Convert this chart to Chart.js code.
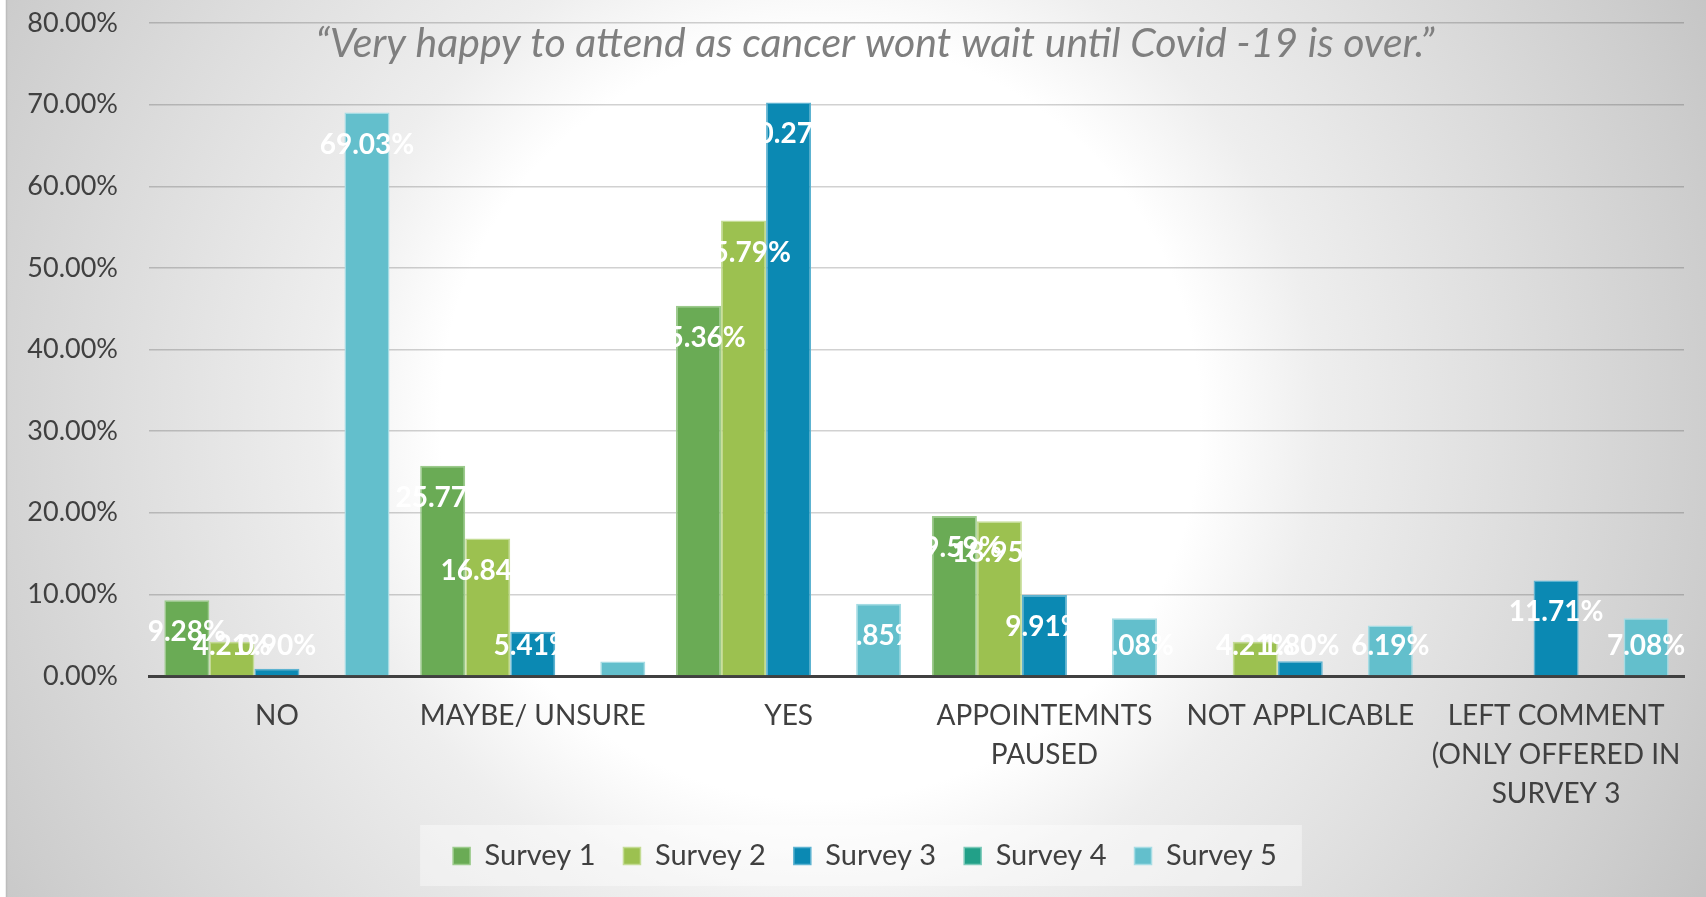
<!DOCTYPE html>
<html>
<head>
<meta charset="utf-8">
<title>Surveys</title>
<script src="https://cdn.jsdelivr.net/npm/chart.js@4.4.1/dist/chart.umd.min.js"></script>
<style>
  html, body { margin: 0; padding: 0; background: #fff; }
</style>
</head>
<body>
<canvas id="grafico" width="1706" height="897"></canvas>
<script>
const categorias = [
  "NO",
  "MAYBE/ UNSURE",
  "YES",
  ["APPOINTEMNTS", "PAUSED"],
  "NOT APPLICABLE",
  ["LEFT COMMENT", "(ONLY OFFERED IN", "SURVEY 3"],
];
const nomesSeries = ["Survey 1", "Survey 2", "Survey 3", "Survey 4", "Survey 5"];
const survey1 = [9.28, 25.77, 45.36, 19.59, null, null];
const survey2 = [4.21, 16.84, 55.79, 18.95, 4.21, null];
const survey3 = [0.9, 5.41, 70.27, 9.91, 1.8, 11.71];
const survey4 = [null, null, null, null, null, null];
const survey5 = [69.03, 1.77, 8.85, 7.08, 6.19, 7.08];
const ticksY = [0, 10, 20, 30, 40, 50, 60, 70, 80];
const titulo = "“Very happy to attend as cancer wont wait until Covid -19 is over.”";

const cores = ["#6aab55", "#9cc150", "#0b89b3", "#22a088", "#63bfcc"];
const bordas = ["#9ccb8c", "#c4dc94", "#5db3d1", "#7cc9b9", "#a5dce4"];

Chart.defaults.font.family = "Lato, 'Open Sans', sans-serif";
Chart.defaults.color = "#404040";

const fundo = {
  id: "fundo",
  afterLayout(chart) {
    // centraliza a legenda como no original
    chart.legend.left += 23;
    chart.legend.right += 23;
  },
  beforeDraw(chart) {
    const ctx = chart.ctx;
    ctx.save();
    ctx.fillStyle = "#ffffff";
    ctx.fillRect(0, 0, chart.width, chart.height);
    const g = ctx.createRadialGradient(820, 420, 0, 820, 420, 1000);
    g.addColorStop(0, "#ffffff");
    g.addColorStop(0.38, "#ffffff");
    g.addColorStop(0.5, "#eeeeee");
    g.addColorStop(0.9, "#cdcdcd");
    g.addColorStop(1, "#c4c4c4");
    ctx.fillStyle = g;
    ctx.fillRect(6, 0, chart.width - 6, chart.height);
    ctx.strokeStyle = "#bdbdbd";
    ctx.lineWidth = 1.5;
    ctx.beginPath();
    ctx.moveTo(6.5, 0);
    ctx.lineTo(6.5, chart.height);
    ctx.stroke();

    // caixa da legenda
    const hb = chart.legend.legendHitBoxes;
    if (hb && hb.length) {
      const ini = hb[0];
      const fim = hb[hb.length - 1];
      const meio = ini.top + ini.height / 2;
      ctx.fillStyle = "rgba(255,255,255,0.4)";
      ctx.fillRect(ini.left - 33, meio - 31, fim.left + fim.width + 25 - (ini.left - 33), 61);
    }
    ctx.restore();
  },
  beforeDatasetsDraw(chart) {
    const ctx = chart.ctx;
    ctx.save();
    ctx.font = "italic 400 41px Lato, 'Open Sans', sans-serif";
    ctx.fillStyle = "#7f7f7f";
    ctx.textAlign = "center";
    ctx.textBaseline = "middle";
    ctx.fillText(titulo, 875, 44);
    ctx.restore();
  },
};

const rotulos = {
  id: "rotulos",
  afterDatasetsDraw(chart) {
    const ctx = chart.ctx;
    const base = chart.scales.y.getPixelForValue(0);
    ctx.save();
    ctx.font = "bold 28px Lato, 'Open Sans', sans-serif";
    ctx.fillStyle = "#ffffff";
    ctx.textAlign = "center";
    ctx.textBaseline = "middle";
    chart.data.datasets.forEach((ds, i) => {
      const meta = chart.getDatasetMeta(i);
      meta.data.forEach((barra, j) => {
        const v = ds.data[j];
        if (v == null) return;
        const y = Math.min(barra.y + 32, base - 30);
        ctx.fillText(v.toFixed(2) + "%", barra.x, y);
      });
    });
    ctx.restore();
  },
};

const series = [survey1, survey2, survey3, survey4, survey5];

new Chart(document.getElementById("grafico"), {
  type: "bar",
  data: {
    labels: categorias,
    datasets: series.map((dados, i) => ({
      label: nomesSeries[i],
      data: dados,
      backgroundColor: cores[i],
      borderColor: bordas[i],
      borderWidth: 1.5,
      categoryPercentage: 0.88,
      barPercentage: 1,
    })),
  },
  options: {
    responsive: false,
    animation: false,
    devicePixelRatio: 1,
    layout: { padding: { top: 23, left: 0, right: 22, bottom: 16.5 } },
    plugins: {
      legend: {
        position: "bottom",
        labels: {
          boxWidth: 17,
          boxHeight: 17,
          padding: 28,
          color: "#404040",
          font: { size: 29 },
        },
      },
      tooltip: { enabled: false },
    },
    scales: {
      x: {
        grid: { display: false, drawTicks: false },
        border: { display: true, color: "#404040", width: 3 },
        ticks: {
          autoSkip: false,
          maxRotation: 0,
          padding: 20,
          color: "#404040",
          font: { size: 28, lineHeight: 1.4 },
        },
        afterFit: (scale) => {
          scale.height = 137.5;
          scale.paddingLeft = 0;
          scale.paddingRight = 0;
        },
      },
      y: {
        min: 0,
        max: 80,
        grid: { color: "rgba(0,0,0,0.18)", lineWidth: 1.5, drawTicks: false },
        border: { display: false },
        ticks: {
          padding: 31,
          color: "#404040",
          font: { size: 27 },
          callback: (v) => v.toFixed(2) + "%",
        },
        afterBuildTicks: (axis) => {
          axis.ticks = ticksY.map((v) => ({ value: v }));
        },
        afterFit: (scale) => {
          scale.width = 149;
          scale.paddingTop = 0;
          scale.paddingBottom = 0;
        },
      },
    },
  },
  plugins: [fundo, rotulos],
});
</script>
</body>
</html>
